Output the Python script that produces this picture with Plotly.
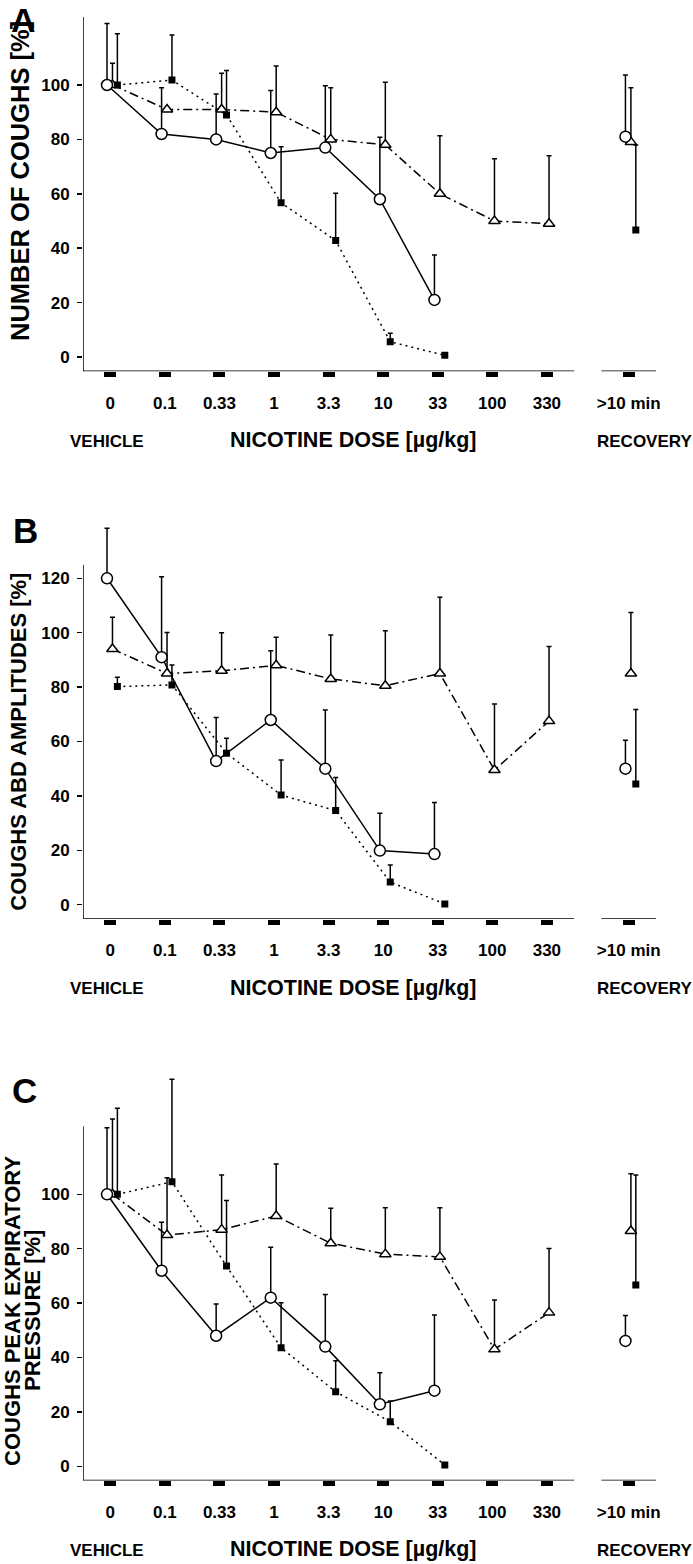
import plotly.graph_objects as go

# ---------------- data ----------------
DOSE_LABELS = ["0", "0.1", "0.33", "1", "3.3", "10", "33", "100", "330"]
RECOVERY_LABEL = ">10 min"

# Panel A: number of coughs [%]
A_circle = [100, 82, 80, 75, 77, 58, 21]
A_circle_err = [22.6, 17, 16.7, 23, 22.7, 22.8, 16.5]
A_circle_rec, A_circle_rec_err = 81, 22.7
A_tri = [100, 91, 91, 90, 80, 78, 60, 50, 49]
A_tri_err = [8, None, 13.3, 17, 19, 23, 21.3, 22.9, 25]
A_tri_rec, A_tri_rec_err = 79, 20
A_sq = [100, 101.8, 89, 56.7, 42.8, 5.6, 0.6]
A_sq_err = [18.8, 16.6, 16.3, 20.6, 17.4, 3.1, None]
A_sq_rec, A_sq_rec_err = 46.7, 31.2

# Panel B: coughs abd amplitudes [%]
B_circle = [120, 91, 52.8, 67.9, 50, 19.9, 18.6]
B_circle_err = [18.4, 29.6, 16, 25.5, 21.6, 13.7, 19]
B_circle_rec, B_circle_rec_err = 50, 10.5
B_tri = [94, 85, 86, 88, 83, 80.5, 85, 49.5, 67.5]
B_tri_err = [11.7, 15.1, 14, 10.3, 16.2, 20.2, 28, 24.3, 27.4]
B_tri_rec, B_tri_rec_err = 85, 22.4
B_sq = [80.2, 80.8, 55.7, 40.3, 34.6, 8.3, 0.3]
B_sq_err = [3.4, 7.3, 5.5, 12.9, 12.2, 6.3, None]
B_sq_rec, B_sq_rec_err = 44.4, 27.4

# Panel C: coughs peak expiratory pressure [%]
C_circle = [100, 71.9, 48, 62, 44, 22.8, 27.8]
C_circle_err = [24.5, 17.8, 11.7, 18.5, 19.2, 11.6, 27.8]
C_circle_rec, C_circle_rec_err = 46.1, 9.3
C_tri = [100, 85, 87, 92, 82, 78, 77, 43, 56.5]
C_tri_err = [27.7, 21.1, 20.1, 19.1, 12.9, 17.1, 18.1, 18.1, 23.6]
C_tri_rec, C_tri_rec_err = 86.5, 21.1
C_sq = [100, 104.6, 73.6, 43.6, 27.4, 16.4, 0.5]
C_sq_err = [31.6, 37.7, 24.1, 16.5, 11.4, 7.6, None]
C_sq_rec, C_sq_rec_err = 66.7, 40.4

Y_TICKS_A = [0, 20, 40, 60, 80, 100]
Y_TICKS_B = [0, 20, 40, 60, 80, 100, 120]
Y_TICKS_C = [0, 20, 40, 60, 80, 100]

# ---------------- layout constants ----------------
W, H = 693, 1564
ML = 83
PLOT_RIGHT = 656
MR = W - PLOT_RIGHT
PW = W - ML - MR
RECOVERY_POS = 9.5
XR = [-0.5, 10]
YBOT = -5.2
YAXIS_TOP = 125
K = 2.72  # px per unit
FONT = "Liberation Sans, Arial, sans-serif"

OFF = {"circle": -0.06, "tri": 0.04, "sq": 0.13}
STY = {
    "circle": dict(symbol="circle", size=11, color="white", line=dict(color="black", width=1.5)),
    "tri": dict(symbol="triangle-up", size=10, color="white", line=dict(color="black", width=1.5)),
    "sq": dict(symbol="square", size=7, color="black", line=dict(color="black", width=0)),
}
DASH = {"circle": "solid", "tri": "9px,4px,2px,4px", "sq": "2px,4px"}


def px2py(py):
    return min(1.0, max(0.0, 1 - py / H))


def px2px(px):
    return (px - ML) / PW


fig = go.Figure()

panels = [
    dict(zero_px=357.0, top=130, ticks=Y_TICKS_A,
         series={"circle": (A_circle, A_circle_err, A_circle_rec, A_circle_rec_err),
                 "tri": (A_tri, A_tri_err, A_tri_rec, A_tri_rec_err),
                 "sq": (A_sq, A_sq_err, A_sq_rec, A_sq_rec_err)}),
    dict(zero_px=904.7, top=145, ticks=Y_TICKS_B,
         series={"circle": (B_circle, B_circle_err, B_circle_rec, B_circle_rec_err),
                 "tri": (B_tri, B_tri_err, B_tri_rec, B_tri_rec_err),
                 "sq": (B_sq, B_sq_err, B_sq_rec, B_sq_rec_err)}),
    dict(zero_px=1466.3, top=145, ticks=Y_TICKS_C,
         series={"circle": (C_circle, C_circle_err, C_circle_rec, C_circle_rec_err),
                 "tri": (C_tri, C_tri_err, C_tri_rec, C_tri_rec_err),
                 "sq": (C_sq, C_sq_err, C_sq_rec, C_sq_rec_err)}),
]

shapes = []
layout_axes = {}
for i, p in enumerate(panels):
    n = "" if i == 0 else str(i + 1)
    xa, ya = "x" + n, "y" + n
    bottom_px = p["zero_px"] - YBOT * K
    top_px = p["zero_px"] - p["top"] * K
    layout_axes["xaxis" + n] = dict(
        domain=[0, 1], range=XR, anchor=ya, showgrid=False, zeroline=False, showline=False,
        tickmode="array", tickvals=list(range(len(DOSE_LABELS))) + [RECOVERY_POS],
        ticktext=DOSE_LABELS + [RECOVERY_LABEL], ticks="outside", ticklen=5, tickwidth=12,
        tickcolor="black", tickfont=dict(family=FONT, size=17, color="black", weight="bold"),
        ticklabelstandoff=11, fixedrange=True,
    )
    layout_axes["yaxis" + n] = dict(
        domain=[px2py(bottom_px), px2py(top_px)], range=[YBOT, p["top"]], anchor=xa,
        showgrid=False, zeroline=False, showline=False, tickmode="array", tickvals=p["ticks"],
        ticks="outside", ticklen=5, tickwidth=1.5, tickcolor="black",
        tickfont=dict(family=FONT, size=17, color="black", weight="bold"), ticklabelstandoff=4,
        fixedrange=True,
    )
    # broken axis lines
    shapes.append(dict(type="line", xref=xa, yref=ya, x0=XR[0], x1=XR[0], y0=YBOT, y1=YAXIS_TOP,
                       line=dict(color="black", width=1.5)))
    shapes.append(dict(type="line", xref=xa, yref=ya, x0=XR[0], x1=8.5, y0=YBOT, y1=YBOT,
                       line=dict(color="black", width=1.5)))
    shapes.append(dict(type="line", xref=xa, yref=ya, x0=9.0, x1=XR[1], y0=YBOT, y1=YBOT,
                       line=dict(color="black", width=1.5)))

    # error bars first
    for key in ["circle", "tri", "sq"]:
        vals, errs, rv, re = p["series"][key]
        xs = [j + OFF[key] for j in range(len(vals))] + [RECOVERY_POS + OFF[key]]
        ys = list(vals) + [rv]
        es = list(errs) + [re]
        ex = [x for x, e in zip(xs, es) if e is not None]
        ey = [y for y, e in zip(ys, es) if e is not None]
        ee = [e for e in es if e is not None]
        fig.add_trace(go.Scatter(
            x=ex, y=ey, xaxis=xa, yaxis=ya, mode="markers",
            marker=dict(size=1, color="rgba(0,0,0,0)"), hoverinfo="skip",
            error_y=dict(type="data", symmetric=False, array=ee, arrayminus=[0] * len(ee),
                         color="black", thickness=1.5, width=2.5),
        ))
    # lines
    for key in ["tri", "sq", "circle"]:
        vals = p["series"][key][0]
        xs = [j + OFF[key] for j in range(len(vals))]
        fig.add_trace(go.Scatter(
            x=xs, y=vals, xaxis=xa, yaxis=ya, mode="lines",
            line=dict(color="black", width=1.5, dash=DASH[key]), hoverinfo="skip",
        ))
    # markers
    for key in ["tri", "sq", "circle"]:
        vals, errs, rv, re = p["series"][key]
        xs = [j + OFF[key] for j in range(len(vals))] + [RECOVERY_POS + OFF[key]]
        ys = list(vals) + [rv]
        fig.add_trace(go.Scatter(
            x=xs, y=ys, xaxis=xa, yaxis=ya, mode="markers", marker=STY[key], hoverinfo="skip",
        ))

annotations = []
bold = lambda s: dict(family=FONT, size=s, color="black", weight="bold")
# panel letters
annotations.append(dict(text="A", xref="paper", yref="paper", x=px2px(23), y=1.0,
                        xanchor="center", yanchor="top", showarrow=False, font=bold(34), borderpad=0))
for t, x, y in [("B", 25.5, 530.5), ("C", 24.5, 1090.5)]:
    annotations.append(dict(text=t, xref="paper", yref="paper", x=px2px(x), y=px2py(y),
                            xanchor="center", yanchor="middle", showarrow=False, font=bold(35),
                            borderpad=0))

for p in panels:
    dy = p["zero_px"] - 357.0
    annotations.append(dict(text="VEHICLE", xref="paper", yref="paper", x=px2px(107), y=px2py(441 + dy),
                            xanchor="center", yanchor="middle", showarrow=False, font=bold(17)))
    annotations.append(dict(text="NICOTINE DOSE [µg/kg]", xref="paper", yref="paper", x=px2px(353.5),
                            y=px2py(440 + dy), xanchor="center", yanchor="middle", showarrow=False,
                            font=bold(21.5)))
    annotations.append(dict(text="RECOVERY", xref="paper", yref="paper", x=px2px(644), y=px2py(441 + dy),
                            xanchor="center", yanchor="middle", showarrow=False, font=bold(17)))

ytitles = [("NUMBER OF COUGHS [%]", 19.5, 181.5, 25.5),
           ("COUGHS ABD AMPLITUDES [%]", 19, 741.7, 22),
           ("COUGHS PEAK EXPIRATORY", 12, 1311, 22),
           ("PRESSURE [%]", 32, 1311, 22)]
for t, x, y, s in ytitles:
    annotations.append(dict(text=t, xref="paper", yref="paper", x=px2px(x), y=px2py(y), textangle=-90,
                            xanchor="center", yanchor="middle", showarrow=False, font=bold(s),
                            borderpad=0))

fig.update_layout(
    width=W, height=H, margin=dict(l=ML, r=MR, t=0, b=0, pad=0),
    template="none", showlegend=False, plot_bgcolor="white", paper_bgcolor="white",
    shapes=shapes, annotations=annotations, **layout_axes,
)

fig.write_html("out.html", config={"displayModeBar": False, "staticPlot": True},
               post_script="document.body.style.margin = '0px';")
